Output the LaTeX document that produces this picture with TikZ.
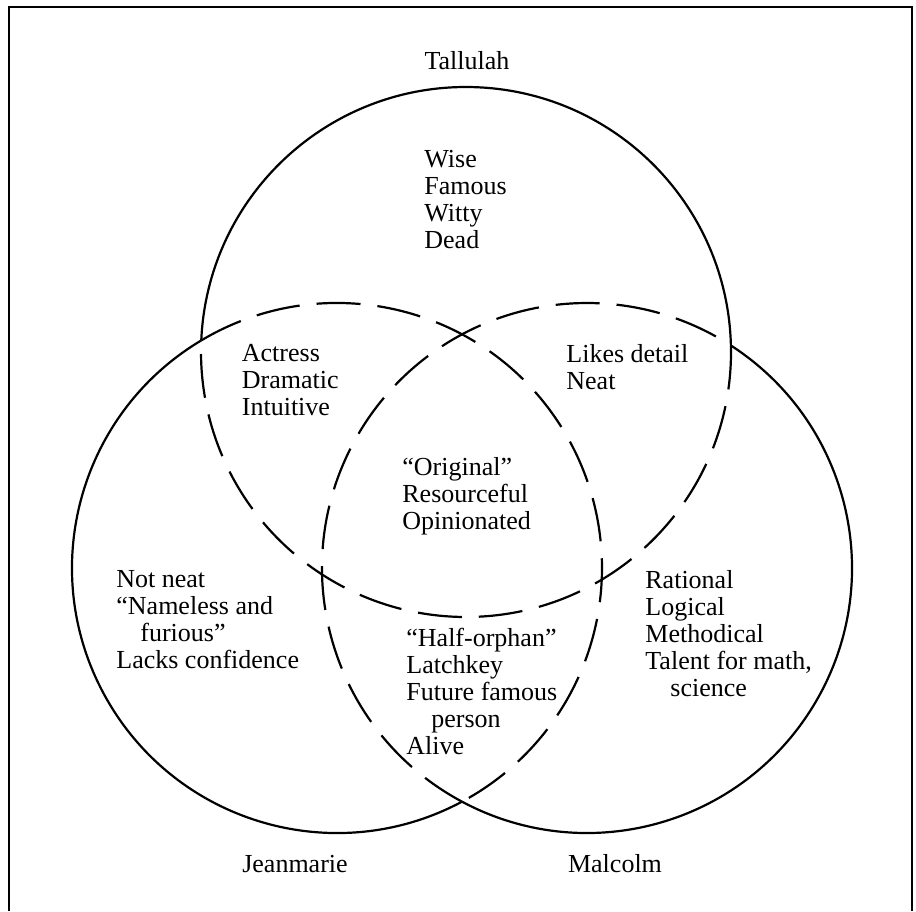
\documentclass[tikz,border=0pt]{standalone}
\usepackage{fontspec}
\setmainfont{Liberation Serif}
\usepackage{xcolor}
\usepackage{tikz}
\usetikzlibrary{positioning}
\definecolor{ink}{HTML}{000000}

\tikzset{
  ring/.style={draw=ink, line width=1.1pt},
  overlap/.style={draw=ink, line width=1.1pt, dash pattern=on 22pt off 8.5pt},
  trait/.style={font=\fontsize{13}{13.5}\selectfont, align=left, anchor=north west, inner sep=0pt, text=ink},
  circname/.style={font=\fontsize{13}{13.5}\selectfont, inner sep=0pt, text=ink}
}

\begin{document}
\begin{tikzpicture}[x=0.5pt, y=-0.5pt]
  \useasboundingbox (0,0) rectangle (916,911);
  \draw[ink, line width=1.1pt] (9,911) |- (912,7) -- (912,911);

  \coordinate (tal) at (466,352);
  \coordinate (jea) at (337,568);
  \coordinate (mal) at (587,568);

  \draw[ring] (tal) ++(182.5:265) arc[start angle=182.5, end angle=358.6, radius=265];
  \draw[overlap] (tal) ++(-1.4:265) arc[start angle=-1.4, end angle=182.5, radius=265];
  \draw[ring] (jea) ++(61.86:265) arc[start angle=61.86, end angle=239.2, radius=265];
  \draw[overlap] (jea) ++(-120.8:265) arc[start angle=-120.8, end angle=61.86, radius=265];
  \draw[ring] (mal) ++(-57.1:265) arc[start angle=-57.1, end angle=118.14, radius=265];
  \draw[overlap] (mal) ++(118.14:265) arc[start angle=118.14, end angle=302.9, radius=265];

  \node[circname] (talname) at (467,61) {Tallulah};
  \node[circname] (jeaname) at (295,864) {Jeanmarie};
  \node[circname] (malname) at (615,864) {Malcolm};

  \node[trait] (talonly) at (424,150) {Wise\\Famous\\Witty\\Dead};
  \node[trait] (taljea) at (241.5,344) {Actress\\Dramatic\\Intuitive};
  \node[trait] (talmal) at (566,344) {Likes detail\\Neat};
  \node[trait] (all) at (402,457) {\textquotedblleft Original\textquotedblright\\Resourceful\\Opinionated};
  \node[trait] (jeaonly) at (116,570) {Not neat\\\textquotedblleft Nameless and\\\hspace*{12pt}furious\textquotedblright\\Lacks confidence};
  \node[trait] (jeamal) at (406,628) {\textquotedblleft Half-orphan\textquotedblright\\Latchkey\\Future famous\\\hspace*{12.5pt}person\\Alive};
  \node[trait] (malonly) at (645,570) {Rational\\Logical\\Methodical\\Talent for math,\\\hspace*{12.5pt}science};
\end{tikzpicture}
\end{document}
